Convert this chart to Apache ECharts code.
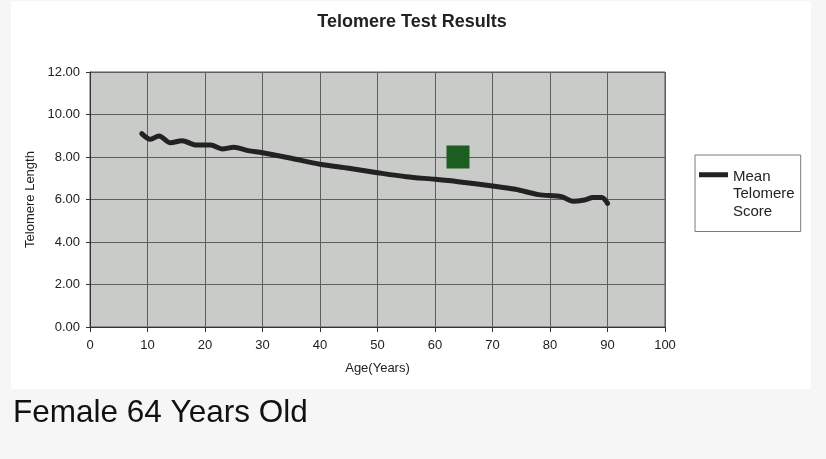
<!DOCTYPE html>
<html>
<head>
<meta charset="utf-8">
<script src="https://cdn.jsdelivr.net/npm/echarts@6/dist/echarts.min.js"></script>
<style>
html,body{margin:0;padding:0;background:#f6f6f6;}
#chart{width:826px;height:459px;}
</style>
</head>
<body>
<div id="chart"></div>
<script>
// Data
const ages = [9, 10.5, 12, 14, 16, 18.5, 21, 23, 25, 27.5, 30, 35, 40, 45, 50, 55, 60, 64, 70, 74, 78, 82, 84, 86, 87.5, 89, 90];
const meanScores = [9.1, 8.83, 8.99, 8.67, 8.77, 8.56, 8.56, 8.38, 8.46, 8.3, 8.2, 7.94, 7.66, 7.47, 7.26, 7.07, 6.95, 6.84, 6.64, 6.48, 6.23, 6.13, 5.92, 5.98, 6.09, 6.09, 5.82];
const patientAge = [64];
const patientScore = [8.0];
const seriesName = 'Mean\nTelomere\nScore';
const titleText = 'Telomere Test Results';
const xAxisName = 'Age(Years)';
const yAxisName = 'Telomere Length';
const footerText = 'Female 64 Years Old';

const lineData = ages.map((a, i) => [a, meanScores[i]]);
const patientData = patientAge.map((a, i) => [a, patientScore[i]]);

const chart = echarts.init(document.getElementById('chart'), null, {renderer: 'canvas'});
chart.setOption({
  backgroundColor: '#f6f6f6',
  animation: false,
  graphic: [
    {type: 'rect', z: -10, silent: true, shape: {x: 11, y: 1, width: 800, height: 388}, style: {fill: '#ffffff'}},
    {type: 'text', left: 13, top: 397, style: {text: footerText, font: '31.5px "Liberation Sans", Arial, sans-serif', fill: '#111111'}}
  ],
  title: {
    text: titleText,
    left: 412,
    top: 13,
    padding: 0,
    textAlign: 'center',
    textStyle: {fontFamily: '"Liberation Sans", Arial, sans-serif', fontSize: 18, fontWeight: 'bold', color: '#222222'}
  },
  legend: {
    left: 695,
    top: 155,
    orient: 'vertical',
    padding: [13, 6, 11, 4],
    borderColor: '#7a7a7a',
    borderWidth: 1,
    backgroundColor: '#ffffff',
    itemWidth: 29,
    itemHeight: 44,
    icon: 'path://M0,0 L29,0 L29,5 L0,5 Z M0,44 L29,44',
    itemStyle: {color: '#222222', borderWidth: 0},
    textStyle: {fontFamily: '"Liberation Sans", Arial, sans-serif', fontSize: 15, lineHeight: 17.5, color: '#222222'},
    data: [seriesName]
  },
  grid: {
    left: 90, right: 161, top: 72, bottom: 132,
    show: true,
    backgroundColor: '#c9cbc8',
    borderColor: '#555555',
    borderWidth: 1
  },
  xAxis: {
    type: 'value',
    min: 0, max: 100, interval: 10,
    name: xAxisName,
    nameLocation: 'middle',
    nameGap: 35,
    nameTextStyle: {fontFamily: '"Liberation Sans", Arial, sans-serif', fontSize: 13, color: '#222222'},
    axisLine: {show: true, lineStyle: {color: '#333333', width: 1}},
    axisTick: {show: true, length: 5, lineStyle: {color: '#333333'}},
    axisLabel: {margin: 12, fontFamily: '"Liberation Sans", Arial, sans-serif', fontSize: 13, color: '#222222'},
    splitLine: {show: true, lineStyle: {color: '#5e5e5e', width: 1}}
  },
  yAxis: {
    type: 'value',
    min: 0, max: 12, interval: 2,
    name: yAxisName,
    nameLocation: 'middle',
    nameGap: 49,
    nameTextStyle: {fontFamily: '"Liberation Sans", Arial, sans-serif', fontSize: 13, color: '#222222'},
    axisLine: {show: true, lineStyle: {color: '#333333', width: 1}},
    axisTick: {show: true, length: 4, lineStyle: {color: '#333333'}},
    axisLabel: {margin: 10, formatter: v => v.toFixed(2), fontFamily: '"Liberation Sans", Arial, sans-serif', fontSize: 13, color: '#222222'},
    splitLine: {show: true, lineStyle: {color: '#5e5e5e', width: 1}}
  },
  series: [
    {
      name: seriesName,
      type: 'line',
      data: lineData,
      smooth: 0.3,
      showSymbol: false,
      symbol: 'none',
      color: '#222222',
      lineStyle: {color: '#222222', width: 5, cap: 'round', join: 'round'},
      z: 3
    },
    {
      name: 'Patient',
      type: 'scatter',
      data: patientData,
      symbol: 'rect',
      symbolSize: 23,
      itemStyle: {color: '#1c5e21', opacity: 1},
      z: 4
    }
  ]
});
</script>
</body>
</html>
